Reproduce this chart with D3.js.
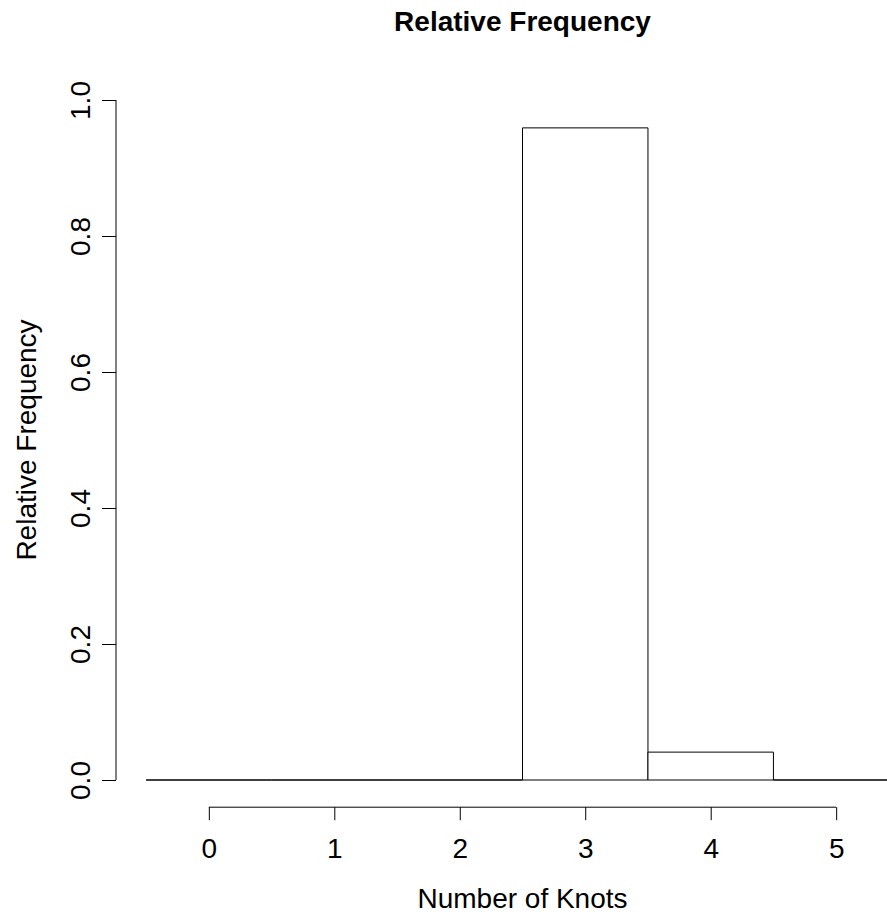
<!DOCTYPE html>
<html>
<head>
<meta charset="utf-8">
<script src="https://cdn.jsdelivr.net/npm/d3@7"></script>
<style>
  html, body { margin: 0; padding: 0; background: #fff; }
  svg { display: block; }
  text { font-family: "Liberation Sans", Arial, Helvetica, sans-serif; fill: #000; }
</style>
</head>
<body>
<svg id="chart" width="887" height="915"></svg>
<script>
// Knot counts and their relative frequencies
const knots = [0, 1, 2, 3, 4, 5];
const relFreq = [0, 0, 0, 0.959, 0.041, 0];
const yTicks = [0, 0.2, 0.4, 0.6, 0.8, 1.0];
const xTicks = [0, 1, 2, 3, 4, 5];

const W = 887, H = 915;
const svg = d3.select("#chart");

// Plot region (the region extends past the right edge of the page)
const plotLeft = 116, plotRight = 929, plotTop = 72.8, plotBottom = 807.2;

const x = d3.scaleLinear()
  .domain([-0.74, 5.74])
  .range([plotLeft, plotRight]);

const y = d3.scaleLinear()
  .domain([-0.04, 1.04])
  .range([plotBottom, plotTop]);

// Histogram bars, one unit wide centred on each knot count
const barPath = d => {
  const p = d3.path();
  const x0 = x(d.k - 0.5), x1 = x(d.k + 0.5);
  const y0 = y(0), y1 = y(d.v);
  p.moveTo(x0, y0);
  p.lineTo(x1, y0);
  p.lineTo(x1, y1);
  p.lineTo(x0, y1);
  p.closePath();
  return p.toString();
};

svg.append("g")
  .selectAll("path")
  .data(knots.map((k, i) => ({ k, v: relFreq[i] })))
  .join("path")
  .attr("d", barPath)
  .attr("fill", "#fff")
  .attr("stroke", "#000")
  .attr("stroke-width", 1);

// Y axis
const yAxis = d3.axisLeft(y)
  .tickValues(yTicks)
  .tickSize(14)
  .tickPadding(0)
  .tickFormat(d3.format(".1f"));

const gy = svg.append("g")
  .attr("transform", `translate(${plotLeft},0)`)
  .call(yAxis);
gy.select(".domain")
  .attr("d", `M-0,${y(0)}V${y(1)}`)
  .attr("stroke", "#000");
gy.selectAll(".tick line").attr("stroke", "#000");
gy.selectAll(".tick text")
  .attr("x", null).attr("dy", null)
  .attr("text-anchor", "middle")
  .attr("transform", "translate(-26,0) rotate(-90)")
  .attr("y", 0)
  .style("font-size", "28px");

// X axis
const xAxis = d3.axisBottom(x)
  .tickValues(xTicks)
  .tickSize(13)
  .tickPadding(0)
  .tickFormat(d3.format("d"));

const gx = svg.append("g")
  .attr("transform", `translate(0,${plotBottom})`)
  .call(xAxis);
gx.select(".domain")
  .attr("d", `M${x(0)},0H${x(5)}`)
  .attr("stroke", "#000");
gx.selectAll(".tick line").attr("stroke", "#000");
gx.selectAll(".tick text")
  .attr("dy", null)
  .attr("y", 858 - plotBottom)
  .style("font-size", "28px");

// Axis titles
const midX = (plotLeft + plotRight) / 2;
const midY = (plotTop + plotBottom) / 2;

svg.append("text")
  .attr("x", midX)
  .attr("y", 908)
  .attr("text-anchor", "middle")
  .style("font-size", "28px")
  .text("Number of Knots");

svg.append("text")
  .attr("transform", `translate(36,${midY}) rotate(-90)`)
  .attr("text-anchor", "middle")
  .style("font-size", "28px")
  .text("Relative Frequency");

// Main title
svg.append("text")
  .attr("x", midX)
  .attr("y", 31)
  .attr("text-anchor", "middle")
  .style("font-size", "28px")
  .style("font-weight", "bold")
  .text("Relative Frequency");
</script>
</body>
</html>
